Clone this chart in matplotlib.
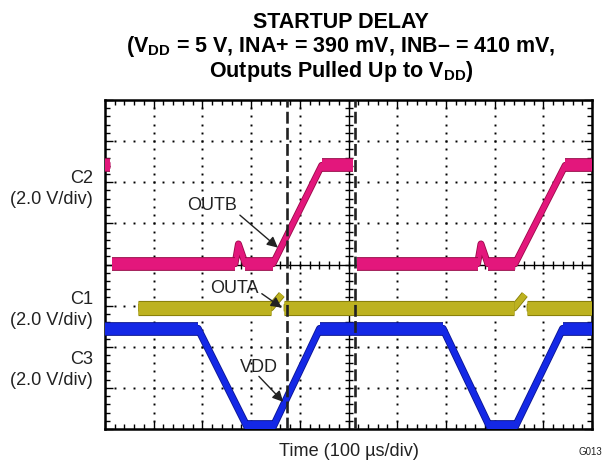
import numpy as np
import matplotlib
matplotlib.use("Agg")
import matplotlib.pyplot as plt
import matplotlib.patheffects as pe

plt.rcParams['font.family'] = ['Liberation Sans', 'DejaVu Sans']
plt.rcParams['mathtext.fontset'] = 'custom'
plt.rcParams['mathtext.rm'] = 'Liberation Sans'
plt.rcParams['mathtext.bf'] = 'Liberation Sans:bold'

# scope traces, time in divisions (100 us/div), level in divisions (0 = bottom)
outb_t = [0.0, 0.11, np.nan, 0.15, 2.67, 2.74, 2.88, 3.45, 4.45, 5.09, np.nan,
          5.17, 7.65, 7.72, 7.86, 8.42, 9.45, 10.0]
outb_v = [6.41, 6.41, np.nan, 4.02, 4.02, 4.50, 4.02, 4.02, 6.41, 6.41, np.nan,
          4.02, 4.02, 4.50, 4.02, 4.02, 6.41, 6.41]

outa_t = [0.68, 3.40, 3.63, np.nan, 3.67, 8.40, 8.62, np.nan, 8.66, 10.0]
outa_v = [2.95, 2.95, 3.27, np.nan, 2.95, 2.95, 3.27, np.nan, 2.95, 2.95]

vdd_t = [0.0, 1.91, 2.92, 3.45, 4.41, 6.94, 7.90, 8.42, 9.40, 10.0]
vdd_v = [2.44, 2.44, 0.05, 0.05, 2.44, 2.44, 0.05, 0.05, 2.44, 2.44]

cursor_t = [3.74, 5.13]

channel_labels = ["C2", "C1", "C3"]
channel_name_y = [6.10, 3.15, 1.68]
channel_scale_y = [5.59, 2.63, 1.17]

fig = plt.figure(figsize=(6.15, 4.68), dpi=100)
ax = fig.add_axes([105 / 615, 39 / 468, 487 / 615, 329 / 468])
ax.set_xlim(0, 10)
ax.set_ylim(0, 8)


def trace(t, v, color, edge, lw_ramp, lw_flat):
    t = np.array(t, dtype=float)
    v = np.array(v, dtype=float)
    fx = [pe.Stroke(linewidth=lw_ramp + 1.2, foreground=edge), pe.Normal()]
    ax.plot(t, v, color=color, lw=lw_ramp, solid_capstyle='butt',
            solid_joinstyle='round', path_effects=fx, zorder=3)
    # flat parts look thicker because of noise
    for i in range(len(t) - 1):
        if v[i] == v[i + 1]:
            ax.plot(t[i:i + 2], v[i:i + 2], color=color, lw=lw_flat,
                    solid_capstyle='butt', zorder=3,
                    path_effects=[pe.Stroke(linewidth=lw_flat + 1.4, foreground=edge), pe.Normal()])


# grid dots and center cross
minor = np.arange(0, 10.01, 0.2)
minor_y = np.arange(0, 8.01, 0.2)
for gx in range(1, 10):
    if gx != 5:
        ax.plot(np.full_like(minor_y, gx), minor_y, ls='none', marker='s',
                ms=1.4, color='black', mew=0, zorder=1)
for gy in range(1, 8):
    if gy != 4:
        ax.plot(minor, np.full_like(minor, gy), ls='none', marker='s',
                ms=1.4, color='black', mew=0, zorder=1)
ax.axhline(4, color='black', lw=1.0, zorder=1)
ax.axvline(5, color='black', lw=1.0, zorder=1)
ax.plot(minor, np.full_like(minor, 4), ls='none', marker='|', ms=6,
        mew=1.0, color='black', zorder=1)
ax.plot(np.full_like(minor_y, 5), minor_y, ls='none', marker='_', ms=6,
        mew=1.0, color='black', zorder=1)

trace(outb_t, outb_v, '#E3177C', '#9A0848', 3.8, 8.5)
trace(outa_t, outa_v, '#BDB220', '#857C08', 4.2, 9.5)
trace(vdd_t, vdd_v, '#1428E6', '#0A1490', 4.2, 8.5)

for ct in cursor_t:
    ax.axvline(ct, color='#222222', lw=1.9, ls=(0, (4.5, 1.6)), zorder=4)

# annotations
ann = dict(arrowstyle='-|>', color='#222222', lw=1.0, mutation_scale=16,
           shrinkA=0, shrinkB=0)
ax.text(2.20, 5.44, "OUTB", ha='center', va='center', fontsize=13, color='#222222', zorder=5)
ax.annotate("", xy=(3.55, 4.41), xytext=(2.77, 5.20), arrowprops=ann, zorder=5)
ax.text(2.65, 3.41, "OUTA", ha='center', va='center', fontsize=13, color='#222222', zorder=5)
ax.annotate("", xy=(3.63, 2.95), xytext=(3.22, 3.29), arrowprops=ann, zorder=5)
ax.text(3.16, 1.50, "VDD", ha='center', va='center', fontsize=13, color='#222222', zorder=5)
ax.annotate("", xy=(3.66, 0.66), xytext=(3.16, 1.28), arrowprops=ann, zorder=5)

# ticks on the frame
ax.set_xticks(range(0, 11))
ax.set_yticks(range(0, 9))
ax.set_xticks(minor, minor=True)
ax.set_yticks(minor_y, minor=True)
ax.tick_params(which='both', direction='in', top=True, right=True,
               labelbottom=False, labelleft=False, width=1.0)
ax.tick_params(which='major', length=6)
ax.tick_params(which='minor', length=3.5)
for s in ax.spines.values():
    s.set_linewidth(1.8)

# channel labels
for lab, y1, y2 in zip(channel_labels, channel_name_y, channel_scale_y):
    ax.text(-0.25, y1, lab, ha='right', va='center', fontsize=13.1,
            color='#222222')
    ax.text(-0.25, y2, "(2.0 V/div)", ha='right', va='center',
            fontsize=13.1, color='#222222')

ax.set_xlabel(u"Time (100 \u00b5s/div)", fontsize=13.1, color='#222222', labelpad=10)
fig.text(590 / 615, 1 - 452 / 468, "G013", fontsize=7, ha='center', va='center',
         color='#222222')

# title
tx = 341 / 615
fig.text(tx, 1 - 28 / 468, "STARTUP DELAY", ha='center', va='baseline',
         fontsize=15.5, fontweight='bold')
fig.text(tx, 1 - 52 / 468,
         r"(V$_\mathbf{DD}$ = 5 V, INA+ = 390 mV, INB" + u"\u2013" + " = 410 mV,",
         ha='center', va='baseline', fontsize=15.5, fontweight='bold')
fig.text(tx, 1 - 77 / 468, r"Outputs Pulled Up to V$_\mathbf{DD}$)",
         ha='center', va='baseline', fontsize=15.5, fontweight='bold')

fig.savefig("out.png", dpi=100)
